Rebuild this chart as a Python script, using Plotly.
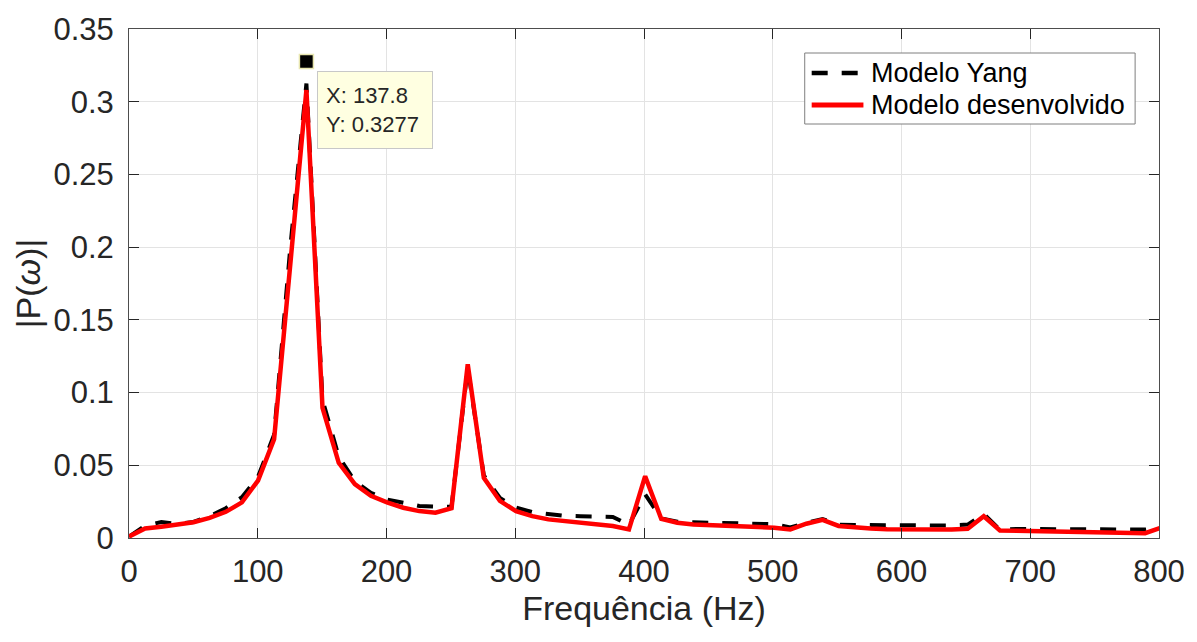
import plotly.graph_objects as go

# Frequency bins (Hz)
freq = [0.0, 12.5, 25.1, 37.6, 50.1, 62.6, 75.2, 87.7, 100.2, 112.7,
        125.3, 137.8, 150.3, 162.9, 175.4, 187.9, 200.4, 213.0, 225.5, 238.0,
        250.5, 263.1, 275.6, 288.1, 300.6, 313.2, 325.7, 338.2, 350.8, 363.3,
        375.8, 388.3, 400.9, 413.4, 425.9, 438.4, 451.0, 463.5, 476.0, 488.6,
        501.1, 513.6, 526.1, 538.7, 551.2, 563.7, 576.2, 588.8, 601.3, 613.8,
        626.4, 638.9, 651.4, 663.9, 676.5, 689.0, 701.5, 714.0, 726.6, 739.1,
        751.6, 764.2, 776.7, 789.2, 801.7]

# |P(w)| - Yang model
p_yang = [0.001, 0.0085, 0.011, 0.0097, 0.011, 0.015, 0.0205, 0.028, 0.042, 0.071,
          0.200, 0.3125, 0.095, 0.056, 0.039, 0.031, 0.0265, 0.024, 0.022, 0.0215,
          0.0215, 0.117, 0.043, 0.0275, 0.021, 0.0178, 0.0163, 0.0153, 0.015, 0.0147,
          0.0145, 0.009, 0.030, 0.0135, 0.0112, 0.0108, 0.0105, 0.0102, 0.0100, 0.0097,
          0.0095, 0.0072, 0.0105, 0.013, 0.0092, 0.009, 0.0088, 0.0087, 0.0087, 0.0086,
          0.0086, 0.0086, 0.0092, 0.0165, 0.0056, 0.0062, 0.0062, 0.0061, 0.006, 0.006,
          0.006, 0.006, 0.0058, 0.0058, 0.0072]

# |P(w)| - developed model
p_dev = [0.001, 0.0065, 0.0078, 0.009, 0.0108, 0.0138, 0.018, 0.0245, 0.0395, 0.068,
         0.190, 0.308, 0.0895, 0.0517, 0.037, 0.029, 0.0245, 0.0208, 0.0185, 0.0174,
         0.0205, 0.1195, 0.0414, 0.0255, 0.0185, 0.015, 0.0128, 0.0116, 0.0105, 0.0094,
         0.0082, 0.0059, 0.0425, 0.0132, 0.0105, 0.0093, 0.0087, 0.0082, 0.0078, 0.0075,
         0.0071, 0.0059, 0.0098, 0.0125, 0.0083, 0.0071, 0.0065, 0.006, 0.0059, 0.0058,
         0.0058, 0.0058, 0.0063, 0.015, 0.0052, 0.005, 0.0049, 0.0048, 0.0047, 0.0046,
         0.0045, 0.0043, 0.0040, 0.0033, 0.0072]

series_names = ["Modelo Yang", "Modelo desenvolvido"]

# Data tip
tip_x = 137.8
tip_y = 0.3277

x_ticks = [0, 100, 200, 300, 400, 500, 600, 700, 800]
x_ticktext = ["0", "100", "200", "300", "400", "500", "600", "700", "800"]
y_ticks = [0, 0.05, 0.1, 0.15, 0.2, 0.25, 0.3, 0.35]
y_ticktext = ["0", "0.05", "0.1", "0.15", "0.2", "0.25", "0.3", "0.35"]

FONT = "Liberation Sans, Arial, sans-serif"
AX = "#262626"

W, H = 1197, 642
ML, MR, MT, MB = 129, 33, 29, 104
PW, PH = W - ML - MR, H - MT - MB


def px_x(p):
    """Pixel column -> paper x fraction."""
    return (p - ML) / PW


def px_y(p):
    """Pixel row -> paper y fraction."""
    return (H - MB - p) / PH


YANG_LINE = dict(color="black", width=4, dash="16px,14px")
DEV_LINE = dict(color="#ff0000", width=4.5)

fig = go.Figure()
fig.add_trace(go.Scatter(x=freq, y=p_yang, mode="lines", name=series_names[0],
                         line=YANG_LINE, showlegend=False))
fig.add_trace(go.Scatter(x=freq, y=p_dev, mode="lines", name=series_names[1],
                         line=DEV_LINE, showlegend=False))
fig.add_trace(go.Scatter(
    x=[tip_x], y=[tip_y], mode="markers", showlegend=False,
    marker=dict(symbol="square", size=14, color="black",
                line=dict(color="#e8e6b0", width=1.5)),
))

# Data tip label box
fig.add_annotation(
    x=tip_x, y=tip_y, xref="x", yref="y",
    text=f"X: {tip_x}<br>Y: {tip_y}",
    showarrow=False, xanchor="left", yanchor="top", align="left",
    xshift=11, yshift=-10, width=98, height=60,
    bgcolor="#ffffe1", bordercolor="#c8c8c8", borderwidth=1, borderpad=8,
    font=dict(family=FONT, size=22, color=AX),
)

# Legend box with line samples and labels
fig.add_shape(type="rect", xref="paper", yref="paper",
              x0=px_x(808), x1=px_x(1140), y0=px_y(124), y1=px_y(53),
              line=dict(color="#7f7f7f", width=1), fillcolor="white", layer="above")
rows = [(73, YANG_LINE), (105, DEV_LINE)]
for name, (row_y, style) in zip(series_names, rows):
    fig.add_shape(type="line", xref="paper", yref="paper",
                  x0=px_x(815), x1=px_x(867), y0=px_y(row_y), y1=px_y(row_y),
                  line=dict(color=style["color"], width=style["width"] + 0.5,
                            dash=style.get("dash", "solid")),
                  layer="above")
    fig.add_annotation(x=px_x(873), y=px_y(row_y), xref="paper", yref="paper",
                       text=name, showarrow=False, xanchor="left", yanchor="middle",
                       font=dict(family=FONT, size=27, color="black"))

axis_common = dict(
    showline=True, linecolor="#4d4d4d", linewidth=1, mirror="ticks",
    ticks="inside", ticklen=10, tickcolor=AX, tickwidth=1,
    showgrid=True, gridcolor="#e3e3e3", gridwidth=1,
    zeroline=False, tickfont=dict(family=FONT, size=31, color=AX),
)

fig.update_xaxes(
    range=[0, 800], tickvals=x_ticks, ticktext=x_ticktext,
    title=dict(text="Frequência (Hz)", font=dict(family=FONT, size=34, color=AX), standoff=6),
    ticklabelstandoff=6,
    **axis_common,
)
fig.update_yaxes(
    range=[0, 0.35], tickvals=y_ticks, ticktext=y_ticktext,
    title=dict(text="|P(<i>ω</i>)|", font=dict(family=FONT, size=34, color=AX), standoff=2),
    ticklabelstandoff=8,
    **axis_common,
)

fig.update_layout(
    width=W, height=H,
    margin=dict(l=ML, r=MR, t=MT, b=MB),
    paper_bgcolor="white", plot_bgcolor="white",
    font=dict(family=FONT, color=AX),
    showlegend=False,
)

fig.write_html("out.html")
